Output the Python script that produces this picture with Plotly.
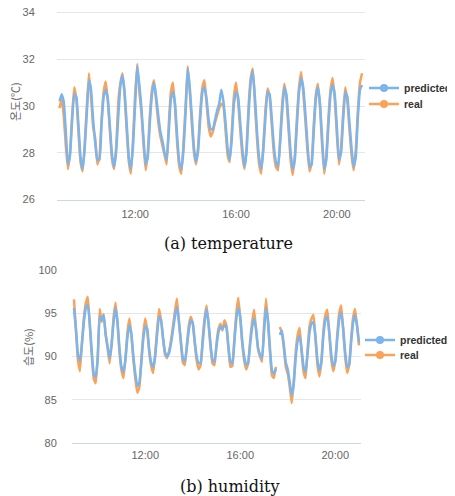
import plotly.graph_objects as go
import pandas as pd

# The page body has an 8px margin; size the figure so it fills the rest of the 455x496 window.
WIN_W, WIN_H, BODY = 455, 496, 8
W, H = WIN_W - BODY, WIN_H - BODY

# ---------------- data ----------------
time_start = "2020-01-01 09:00"
n_points = 145  # 09:00 .. 21:00, every 5 minutes
times = pd.date_range(time_start, periods=n_points, freq="5min")

temp_real = [
    29.9, 30.3, 29.6, 28.3, 27.3, 28.0, 29.6, 30.8, 30.3, 28.9, 27.6, 27.2,
    28.4, 30.0, 31.4, 30.4, 29.1, 28.6, 27.5, 27.8, 29.4, 30.6, 31.05, 30.2,
    28.9, 27.7, 27.3, 28.3, 30.2, 31.0, 31.4, 30.4, 28.9, 27.6, 27.1, 28.6,
    30.5, 31.8, 30.6, 29.7, 28.3, 27.25, 28.0, 29.6, 30.7, 31.1, 30.2, 29.3,
    28.7, 28.3, 27.9, 27.5, 29.2, 30.6, 31.0, 29.9, 28.4, 27.4, 27.1, 28.4,
    30.0, 31.7, 30.6, 29.2, 28.0, 27.5, 28.3, 29.8, 30.8, 31.1, 30.1, 29.1,
    28.7, 28.9, 29.3, 29.6, 29.9, 30.1, 30.0, 29.0, 27.9, 27.6, 28.9, 30.4,
    31.0, 30.2, 29.0, 27.9, 27.3, 28.2, 30.0, 31.2, 31.6, 30.1, 28.6, 27.5,
    27.1, 28.3, 29.8, 30.75, 30.4, 29.2, 28.0, 27.4, 27.25, 28.6, 30.1, 30.95,
    30.3, 29.0, 27.7, 27.05, 27.9, 29.5, 30.8, 31.45, 30.6, 29.4, 28.1, 27.2,
    27.6, 29.2, 30.5, 30.95, 29.9, 28.3, 27.1, 27.9, 29.5, 30.7, 31.2, 30.3,
    28.8, 27.5, 28.2, 29.7, 30.8, 30.2, 29.0, 27.9, 27.25, 28.1, 29.8, 31.0,
    31.4,
]
temp_pred = [
    30.2, 30.5, 30.2, 28.9, 27.5, 27.9, 29.4, 30.5, 30.4, 29.2, 27.8, 27.3,
    28.2, 29.7, 31.1, 30.7, 29.4, 28.4, 27.7, 27.7, 29.2, 30.4, 30.7, 30.3,
    29.1, 27.9, 27.4, 28.1, 29.6, 30.9, 31.3, 30.6, 29.2, 27.8, 27.3, 28.3,
    30.1, 31.7, 30.9, 29.9, 28.6, 27.5, 27.8, 29.3, 30.5, 31.0, 30.4, 29.6,
    28.9, 28.5, 28.0, 27.7, 28.9, 30.3, 30.6, 30.1, 28.7, 27.6, 27.3, 28.1,
    29.7, 31.6, 30.8, 29.5, 28.2, 27.6, 28.1, 29.5, 30.6, 30.8, 30.3, 29.4,
    29.0, 29.0, 29.4, 29.8, 30.1, 30.7, 30.2, 29.3, 28.2, 27.7, 28.6, 30.1,
    30.6, 30.4, 29.3, 28.2, 27.4, 28.0, 29.7, 31.0, 31.5, 30.4, 28.9, 27.8,
    27.3, 28.1, 29.5, 30.6, 30.5, 29.5, 28.3, 27.6, 27.4, 28.4, 29.8, 30.8,
    30.5, 29.3, 28.0, 27.3, 27.7, 29.2, 30.6, 31.2, 30.8, 29.7, 28.4, 27.4,
    27.5, 28.9, 30.3, 30.8, 30.1, 28.6, 27.3, 27.7, 29.2, 30.5, 30.9, 30.5,
    29.1, 27.7, 28.0, 29.4, 30.6, 30.4, 29.3, 28.2, 27.4, 27.8, 29.5, 30.7,
    30.9,
]
hum_real = [
    96.6, 93.0, 89.6, 88.3, 91.5, 94.5, 96.2, 96.9, 93.5, 90.0, 87.4, 86.9,
    90.0, 95.5, 94.0, 94.9, 92.5, 90.9, 89.2, 91.5, 94.5, 96.2, 93.8, 90.4,
    88.4, 87.5, 89.8, 92.8, 94.4, 92.5, 89.6, 87.4, 85.8, 86.4, 89.5, 92.6,
    94.4, 93.0, 90.5, 88.9, 88.1, 90.2, 93.1, 95.5, 94.2, 92.0, 90.2, 89.8,
    90.6, 91.8, 93.5, 95.2, 96.7, 94.0, 91.5, 89.3, 89.0, 91.3, 93.6, 94.6,
    93.8, 91.5, 89.5, 88.5, 89.0, 92.0, 94.5, 95.9, 93.7, 91.0, 89.2, 89.0,
    91.5, 93.2, 93.8, 93.0, 94.2, 93.6, 91.0, 88.8, 88.9, 92.0, 95.0, 96.8,
    94.5, 91.5, 89.5, 88.5, 89.2, 91.8, 94.0, 95.4, 93.0, 90.8, 90.0, 89.4,
    93.5, 96.7, 94.0, 90.5, 87.8, 87.5, 88.8, None, 93.4, 92.8, 91.0, 88.8,
    88.0, 86.5, 84.6, 87.0, 90.5, 92.5, 93.3, 90.5, 88.2, 87.5, 90.8, 93.5,
    94.4, 94.8, 92.0, 89.0, 87.7, 89.5, 93.0, 94.8, 95.4, 92.5, 89.6, 88.3,
    89.5, 92.5, 95.0, 95.9, 93.0, 90.0, 88.1, 89.0, 92.0, 94.5, 95.5, 93.5,
    91.3,
]
hum_pred = [
    95.6, 93.2, 90.2, 89.5, 91.4, 94.0, 95.6, 96.0, 93.8, 90.6, 88.0, 87.6,
    89.8, 94.6, 94.2, 94.8, 92.6, 91.2, 89.8, 91.3, 94.0, 95.6, 94.0, 90.9,
    88.8, 88.2, 89.6, 92.2, 93.6, 92.6, 90.0, 88.0, 86.6, 86.9, 89.2, 92.0,
    93.5, 93.2, 90.8, 89.3, 88.8, 90.0, 92.6, 94.6, 94.2, 92.2, 90.5, 90.0,
    90.4, 91.5, 93.0, 94.6, 95.7, 94.2, 91.8, 89.8, 89.4, 91.0, 93.0, 94.2,
    93.9, 91.8, 90.0, 89.2, 89.3, 91.5, 94.0, 95.5, 93.9, 91.4, 89.6, 89.4,
    91.2, 92.8, 93.4, 93.2, 93.6, 93.4, 91.2, 89.4, 89.2, 91.6, 94.3, 95.6,
    94.6, 91.8, 90.0, 89.0, 89.3, 91.4, 93.4, 94.4, 93.2, 91.0, 90.2, 89.8,
    92.8, 95.6, 94.2, 91.0, 88.4, 88.0, 88.6, None, 92.5, 93.0, 91.4, 89.3,
    88.5, 87.0, 85.5, 86.8, 89.8, 91.8, 92.4, 90.8, 88.8, 88.2, 90.3, 92.8,
    93.8, 94.0, 92.3, 89.6, 88.4, 89.3, 92.4, 94.2, 94.6, 92.8, 90.2, 88.9,
    89.4, 92.0, 94.3, 95.1, 93.3, 90.5, 88.8, 89.0, 91.6, 93.9, 94.8, 93.6,
    91.6,
]

temp_ticks = [26, 28, 30, 32, 34]
hum_ticks = [80, 85, 90, 95, 100]
series_names = ["predicted", "real"]
captions = ["(a) temperature", "(b) humidity"]
y_titles = ["온도(℃)", "습도(%)"]

# ---------------- style ----------------
BLUE = "#7cb5ec"
ORANGE = "#f7a35c"
GRID = "#e6e6e6"
AXIS = "#ccd6eb"
TICKFONT = dict(family="Liberation Sans, Arial, sans-serif", size=11, color="#666666")


def px_x(p):
    """window pixel -> paper fraction"""
    return (p - BODY) / W


def px_y(p):
    return 1 - (p - BODY) / H


fig = go.Figure()

line_kw = dict(width=2.5, shape="spline", smoothing=0.35)

# temperature
fig.add_trace(go.Scatter(x=times, y=temp_real, mode="lines", line=dict(color=ORANGE, **line_kw),
                         xaxis="x", yaxis="y", showlegend=False, hoverinfo="skip"))
fig.add_trace(go.Scatter(x=times, y=temp_pred, mode="lines", line=dict(color=BLUE, **line_kw),
                         xaxis="x", yaxis="y", showlegend=False, hoverinfo="skip"))
# humidity
fig.add_trace(go.Scatter(x=times, y=hum_real, mode="lines", line=dict(color=ORANGE, **line_kw),
                         xaxis="x2", yaxis="y2", showlegend=False, connectgaps=False, hoverinfo="skip"))
fig.add_trace(go.Scatter(x=times, y=hum_pred, mode="lines", line=dict(color=BLUE, **line_kw),
                         xaxis="x2", yaxis="y2", showlegend=False, connectgaps=False, hoverinfo="skip"))

# legend entries: one legend box per entry for exact placement
legend_specs = [
    ("legend", "x", "y", series_names[0], BLUE),
    ("legend3", "x", "y", series_names[1], ORANGE),
    ("legend2", "x2", "y2", series_names[0], BLUE),
    ("legend4", "x2", "y2", series_names[1], ORANGE),
]
for leg, xa, ya, name, col in legend_specs:
    fig.add_trace(go.Scatter(x=[None], y=[None], mode="lines+markers", name=name,
                             line=dict(color=col, width=2.5), marker=dict(color=col, size=8),
                             xaxis=xa, yaxis=ya, legend=leg))

x_common = dict(type="date", tick0="2020-01-01 00:00", dtick=4 * 3600 * 1000, tickformat="%H:%M",
                showgrid=False, showline=True, linecolor=AXIS, linewidth=1, zeroline=False,
                ticks="outside", tickcolor="rgba(0,0,0,0)", tickfont=TICKFONT,
                automargin=False, ticklabeloverflow="allow")
y_common = dict(showline=False, gridcolor=GRID, gridwidth=1, zeroline=False,
                ticks="outside", tickcolor="rgba(0,0,0,0)", tickfont=TICKFONT, automargin=False,
                ticklabeloverflow="allow")

leg_font = dict(family="Liberation Sans, Arial, sans-serif", size=10.5, color="#333333", weight="bold")
leg_common = dict(xanchor="left", yanchor="middle", font=leg_font, bgcolor="rgba(0,0,0,0)",
                  itemwidth=30, borderwidth=0)

# top panel: value 34 sits at y=12.5px, 26 at y=199.5px; range padded slightly above 34
top_px_per_unit = (199.5 - 12.5) / 8.0
top_pad = 0.1

fig.update_layout(
    width=W, height=H,
    margin=dict(l=0, r=0, t=0, b=0, autoexpand=False),
    paper_bgcolor="white", plot_bgcolor="white",
    xaxis=dict(domain=[px_x(57), px_x(365)], anchor="y", ticklen=4,
               range=["2020-01-01 08:54", "2020-01-01 21:07"], **x_common),
    yaxis=dict(domain=[px_y(199.5), px_y(12.5 - top_pad * top_px_per_unit)], anchor="x",
               range=[26, 34 + top_pad], tickvals=temp_ticks, ticklen=19, **y_common),
    xaxis2=dict(domain=[px_x(72), px_x(361)], anchor="y2", ticklen=2,
                range=["2020-01-01 08:55", "2020-01-01 21:05"], **x_common),
    yaxis2=dict(domain=[px_y(443), px_y(270)], anchor="x2", range=[80, 100],
                tickvals=hum_ticks, ticklen=12, **y_common),
    legend=dict(x=px_x(364), y=px_y(88), **leg_common),
    legend3=dict(x=px_x(364), y=px_y(104), **leg_common),
    legend2=dict(x=px_x(360), y=px_y(340), **leg_common),
    legend4=dict(x=px_x(360), y=px_y(355), **leg_common),
    showlegend=True,
)

cap_font = dict(family="DejaVu Serif, serif", size=16, color="#111111")
fig.add_annotation(text=captions[0], x=px_x(228), y=px_y(243), xref="paper", yref="paper",
                   showarrow=False, font=cap_font, xanchor="center", yanchor="middle")
fig.add_annotation(text=captions[1], x=px_x(230), y=px_y(486), xref="paper", yref="paper",
                   showarrow=False, font=cap_font, xanchor="center", yanchor="middle")

ttl_font = dict(family="Noto Sans CJK KR, sans-serif", size=11, color="#666666")
fig.add_annotation(text=y_titles[0], x=px_x(15), y=px_y(102), xref="paper", yref="paper",
                   showarrow=False, font=ttl_font, textangle=-90, xanchor="center", yanchor="middle")
fig.add_annotation(text=y_titles[1], x=px_x(28), y=px_y(347), xref="paper", yref="paper",
                   showarrow=False, font=ttl_font, textangle=-90, xanchor="center", yanchor="middle")

fig.write_html("out.html")
